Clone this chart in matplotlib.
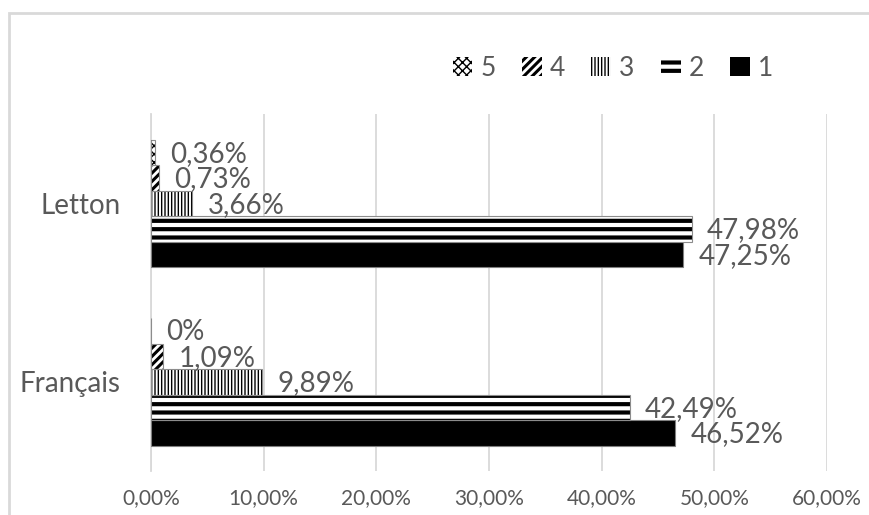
import matplotlib
matplotlib.use("Agg")
import matplotlib.pyplot as plt
from matplotlib.patches import Rectangle, Patch
from matplotlib.ticker import FuncFormatter
import numpy as np

# --- DATA ---
categories = ["Français", "Letton"]
series_names = ["1", "2", "3", "4", "5"]
values_1 = [46.52, 47.25]
values_2 = [42.49, 47.98]
values_3 = [9.89, 3.66]
values_4 = [1.09, 0.73]
values_5 = [0.0, 0.36]
x_ticks = [0, 10, 20, 30, 40, 50, 60]

series_values = [values_1, values_2, values_3, values_4, values_5]
hatches = [None, "--", "|||||", "////", "xxxx"]
hatch_widths = [1.0, 3.0, 1.0, 2.2, 1.0]

plt.rcParams['font.family'] = ['Lato', 'DejaVu Sans']
text_grey = "#595959"
grid_grey = "#d9d9d9"

fig = plt.figure(figsize=(8.69, 5.15), dpi=100)
ax = fig.add_axes([151 / 869, 1 - 471 / 515, 676 / 869, 357 / 515])

# Excel style gap width 40% -> group fills 1/1.4 of each category
group = 1 / 1.4
bar_h = group / len(series_values)
y_base = np.arange(len(categories))

legend_handles = []
for i, vals in enumerate(series_values):
    offs = -group / 2 + bar_h * (i + 0.5)
    ypos = y_base + offs
    plt.rcParams['hatch.linewidth'] = hatch_widths[i]
    if hatches[i] is None:
        bars = ax.barh(ypos, vals, height=bar_h, color="black", edgecolor="#7f7f7f", linewidth=0.8, zorder=3)
    else:
        bars = ax.barh(ypos, vals, height=bar_h, color="white", edgecolor="black",
                       hatch=hatches[i], linewidth=0, zorder=3)
        ax.barh(ypos, vals, height=bar_h, fill=False, edgecolor="#8c8c8c", linewidth=0.8, zorder=4)
    for b in bars:
        if hasattr(b, "set_hatch_linewidth"):
            b.set_hatch_linewidth(hatch_widths[i])

    # data labels at the end of each bar
    for v, y in zip(vals, ypos):
        txt = "0%" if v == 0 else f"{v:.2f}".replace(".", ",") + "%"
        ax.annotate(txt, (v, y), xytext=(11, -1), textcoords="offset points",
                    ha="left", va="center", fontsize=20, color=text_grey, zorder=5)

    if hatches[i] is None:
        h = Patch(facecolor="black", edgecolor="black", linewidth=0)
    else:
        h = Patch(facecolor="white", edgecolor="black", hatch=hatches[i], linewidth=0)
    legend_handles.append(h)

ax.set_xlim(0, 60)
ax.set_ylim(-0.5, len(categories) - 0.5)
ax.set_xticks(x_ticks)
ax.xaxis.set_major_formatter(FuncFormatter(lambda x, p: f"{x:.2f}".replace(".", ",") + "%"))
ax.set_yticks(y_base)
ax.set_yticklabels(categories)
ax.tick_params(axis="x", length=0, labelsize=15, labelcolor=text_grey, pad=12)
ax.tick_params(axis="y", length=0, labelsize=20, labelcolor=text_grey, pad=22)
ax.grid(axis="x", color=grid_grey, linewidth=1.3, zorder=0)
ax.set_axisbelow(True)
for s in ["top", "right", "bottom"]:
    ax.spines[s].set_visible(False)
ax.spines["left"].set_color(grid_grey)
ax.spines["left"].set_linewidth(1.3)

leg = fig.legend(legend_handles[::-1], series_names[::-1], ncol=5, frameon=False,
                 loc="center", bbox_to_anchor=(613 / 869, 1 - 68 / 515),
                 fontsize=19, labelcolor=text_grey, handlelength=0.75, handleheight=0.75,
                 handletextpad=0.3, columnspacing=1.0)
for lh, hw in zip(leg.legend_handles, hatch_widths[::-1]):
    if hasattr(lh, "set_hatch_linewidth"):
        lh.set_hatch_linewidth(hw)

# chart area border (cut off on the right and bottom)
fig.patches.append(Rectangle((9 / 869, -0.1), 1.1, 1 - 13 / 515 + 0.1, transform=fig.transFigure,
                             fill=False, edgecolor=grid_grey, linewidth=2))

fig.savefig("out.png", dpi=100)
